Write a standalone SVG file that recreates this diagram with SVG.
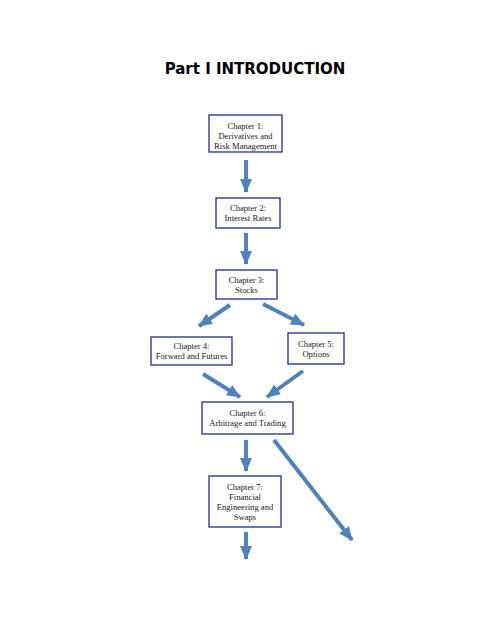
<svg xmlns="http://www.w3.org/2000/svg" width="495" height="640" viewBox="0 0 495 640">
<defs>
<marker id="ah" markerUnits="userSpaceOnUse" markerWidth="14" markerHeight="14" viewBox="0 0 14 12" refX="13" refY="6" orient="auto">
<polygon points="0,0 14,6 0,12" fill="#4f81bd"/>
</marker>
<style>
.box{fill:#fff;stroke:#2a3c9c;stroke-width:1.4}
.t{font-family:"Liberation Serif","Times New Roman",serif;font-size:8.6px;fill:#222;text-anchor:middle}
.c{stroke:#4f81bd;stroke-width:4;fill:none;marker-end:url(#ah)}
</style>
</defs>
<rect width="495" height="640" fill="#fff"/>
<text x="255" y="74" font-family="'DejaVu Sans',Verdana,sans-serif" font-weight="bold" font-size="15" text-anchor="middle" fill="#000">Part I INTRODUCTION</text>
<g id="n1"><rect class="box" x="209" y="115" width="73" height="37"/>
<text class="t" x="245.5" y="129">Chapter 1:</text><text class="t" x="245.5" y="139">Derivatives and</text><text class="t" x="245.5" y="149">Risk Management</text></g>
<g id="n2"><rect class="box" x="216" y="198" width="64" height="30"/>
<text class="t" x="248" y="211">Chapter 2:</text><text class="t" x="248" y="221">Interest Rates</text></g>
<g id="n3"><rect class="box" x="216" y="270" width="61" height="29"/>
<text class="t" x="246.5" y="283">Chapter 3:</text><text class="t" x="246.5" y="293">Stocks</text></g>
<g id="n4"><rect class="box" x="151" y="337" width="81" height="28"/>
<text class="t" x="191.5" y="349">Chapter 4:</text><text class="t" x="191.5" y="359">Forward and Futures</text></g>
<g id="n5"><rect class="box" x="288" y="333" width="56" height="31"/>
<text class="t" x="316" y="347">Chapter 5:</text><text class="t" x="316" y="357">Options</text></g>
<g id="n6"><rect class="box" x="202" y="402" width="91" height="32"/>
<text class="t" x="247.5" y="416">Chapter 6:</text><text class="t" x="247.5" y="426">Arbitrage and Trading</text></g>
<g id="n7"><rect class="box" x="209" y="476" width="72" height="51"/>
<text class="t" x="245" y="490">Chapter 7:</text><text class="t" x="245" y="500">Financial</text><text class="t" x="245" y="510">Engineering and</text><text class="t" x="245" y="520">Swaps</text></g>
<g id="connectors">
<line class="c" x1="246" y1="160" x2="246" y2="192"/>
<line class="c" x1="246" y1="233" x2="246" y2="264"/>
<line class="c" x1="230" y1="305" x2="199" y2="326"/>
<line class="c" x1="263" y1="304" x2="304" y2="325"/>
<line class="c" x1="203" y1="374" x2="240" y2="397"/>
<line class="c" x1="303" y1="371" x2="267" y2="397"/>
<line class="c" x1="246" y1="440" x2="246" y2="471"/>
<line class="c" x1="274" y1="440" x2="352" y2="540"/>
<line class="c" x1="246" y1="532" x2="246" y2="559"/>
</g>
</svg>
